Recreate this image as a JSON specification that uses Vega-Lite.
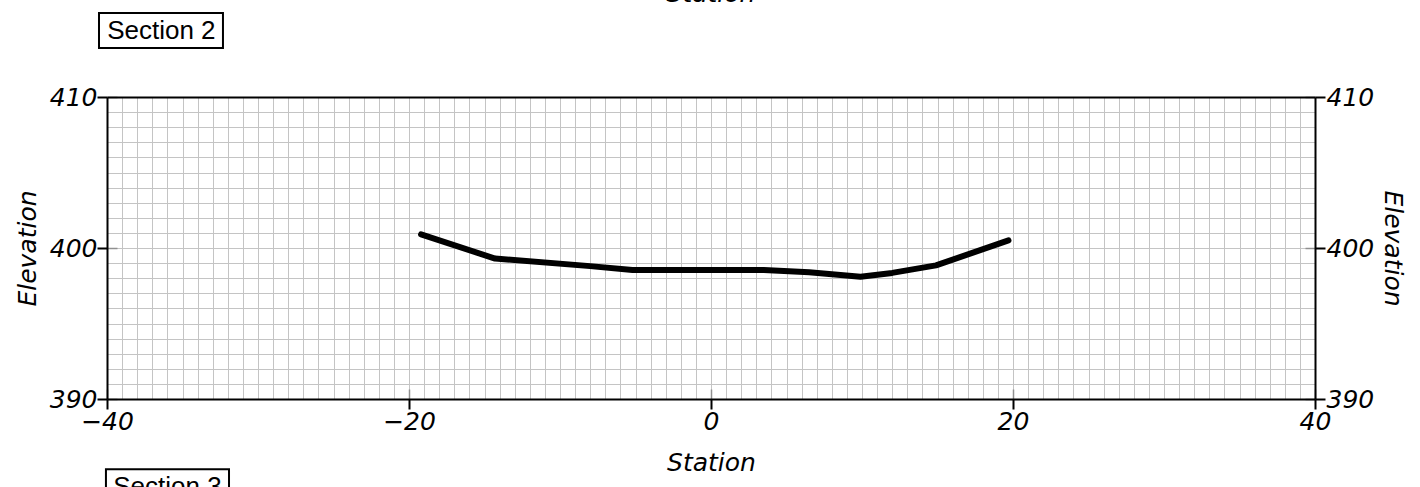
{
  "$schema": "https://vega.github.io/schema/vega-lite/v6.json",
  "width": 1208,
  "height": 302,
  "autosize": {"type": "none"},
  "padding": {"left": 107, "top": 97, "right": 105, "bottom": 88},
  "background": "white",
  "config": {"view": {"stroke": null}, "axis": {"labelFlush": false, "labelOverlap": false, "labelBound": false}},
  "datasets": {
    "profile": [
      {"station": -19.2, "elevation": 400.9},
      {"station": -14.3, "elevation": 399.3},
      {"station": -8.0, "elevation": 398.8},
      {"station": -5.2, "elevation": 398.55},
      {"station": 3.5, "elevation": 398.55},
      {"station": 6.5, "elevation": 398.4},
      {"station": 9.9, "elevation": 398.1},
      {"station": 12.0, "elevation": 398.35},
      {"station": 14.9, "elevation": 398.85},
      {"station": 19.7, "elevation": 400.5}
    ],
    "boxes": [
      {"label": "Section 2", "x1": -40.53, "x2": -32.32, "y1": 415.56, "y2": 413.25, "xc": -36.4, "yc": 414.35},
      {"label": "Section 3", "x1": -40.07, "x2": -31.92, "y1": 385.34, "y2": 383.03, "xc": -36.0, "yc": 384.2}
    ],
    "titles": [
      {"label": "Station", "x": 0, "y": 416.3}
    ]
  },
  "resolve": {"axis": {"x": "independent", "y": "independent"}},
  "layer": [
    {
      "data": {"name": "profile"},
      "mark": {"type": "point", "opacity": 0},
      "encoding": {
        "x": {"field": "station", "type": "quantitative", "scale": {"domain": [-40, 40], "nice": false, "zero": false},
          "axis": {"orient": "bottom", "values": [-40,-39,-38,-37,-36,-35,-34,-33,-32,-31,-30,-29,-28,-27,-26,-25,-24,-23,-22,-21,-20,-19,-18,-17,-16,-15,-14,-13,-12,-11,-10,-9,-8,-7,-6,-5,-4,-3,-2,-1,0,1,2,3,4,5,6,7,8,9,10,11,12,13,14,15,16,17,18,19,20,21,22,23,24,25,26,27,28,29,30,31,32,33,34,35,36,37,38,39,40],
            "grid": true, "gridColor": "#c4c4c4", "gridWidth": 1, "labels": false, "ticks": false, "domain": false, "title": null, "zindex": 0}},
        "y": {"field": "elevation", "type": "quantitative", "scale": {"domain": [390, 410], "nice": false, "zero": false},
          "axis": {"orient": "left", "values": [390,391,392,393,394,395,396,397,398,399,400,401,402,403,404,405,406,407,408,409,410],
            "grid": true, "gridColor": "#c4c4c4", "gridWidth": 1, "labels": false, "ticks": false, "domain": false, "title": null, "zindex": 0}}
      }
    },
    {
      "data": {"name": "profile"},
      "mark": {"type": "point", "opacity": 0},
      "encoding": {
        "x": {"field": "station", "type": "quantitative",
          "axis": {"orient": "bottom", "values": [-40, -20, 0, 20, 40], "labels": false, "ticks": true, "tickSize": -10, "tickColor": "#909090", "tickWidth": 1.5, "domain": false, "grid": false, "title": null, "zindex": 1}},
        "y": {"field": "elevation", "type": "quantitative",
          "axis": {"orient": "left", "values": [390, 400, 410], "labels": false, "ticks": true, "tickSize": -10, "tickColor": "#909090", "tickWidth": 1.5, "domain": false, "grid": false, "title": null, "zindex": 1}}
      }
    },
    {
      "data": {"name": "profile"},
      "mark": {"type": "point", "opacity": 0},
      "encoding": {
        "x": {"field": "station", "type": "quantitative",
          "axis": {"orient": "top", "labels": false, "ticks": false, "domain": true, "domainColor": "black", "domainWidth": 2, "grid": false, "title": null, "zindex": 2}},
        "y": {"field": "elevation", "type": "quantitative",
          "axis": {"orient": "right", "values": [390, 400, 410], "labels": false, "ticks": true, "tickSize": -10, "tickColor": "#909090", "tickWidth": 1.5, "domain": false, "grid": false, "title": null, "zindex": 1}}
      }
    },
    {
      "data": {"name": "profile"},
      "mark": {"type": "line", "color": "black", "strokeWidth": 6, "strokeCap": "round", "strokeJoin": "round"},
      "encoding": {
        "x": {"field": "station", "type": "quantitative",
          "axis": {"orient": "bottom", "values": [-40, -20, 0, 20, 40], "grid": false, "domain": true, "domainColor": "black", "domainWidth": 2,
            "ticks": true, "tickSize": 10, "tickColor": "black", "tickWidth": 2, "labelPadding": 0, "labelFlush": false,
            "labelFont": "DejaVu Sans", "labelFontStyle": "italic", "labelFontWeight": 300, "labelFontSize": 25, "labelColor": "black",
            "title": "Station", "titleFont": "DejaVu Sans", "titleFontStyle": "italic", "titleFontWeight": 300, "titleFontSize": 25, "titleColor": "black", "titlePadding": 16, "zindex": 2}},
        "y": {"field": "elevation", "type": "quantitative",
          "axis": {"orient": "left", "values": [390, 400, 410], "grid": false, "domain": true, "domainColor": "black", "domainWidth": 2,
            "ticks": true, "tickSize": 10, "tickColor": "black", "tickWidth": 2, "labelPadding": 0,
            "labelFont": "DejaVu Sans", "labelFontStyle": "italic", "labelFontWeight": 300, "labelFontSize": 25, "labelColor": "black",
            "title": "Elevation", "titleFont": "DejaVu Sans", "titleFontStyle": "italic", "titleFontWeight": 300, "titleFontSize": 25, "titleColor": "black", "titlePadding": 9, "zindex": 2}}
      }
    },
    {
      "data": {"name": "profile"},
      "mark": {"type": "point", "opacity": 0},
      "encoding": {
        "x": {"field": "station", "type": "quantitative", "axis": null},
        "y": {"field": "elevation", "type": "quantitative",
          "axis": {"orient": "right", "values": [390, 400, 410], "grid": false, "domain": true, "domainColor": "black", "domainWidth": 2,
            "ticks": true, "tickSize": 10, "tickColor": "black", "tickWidth": 2, "labelPadding": 1,
            "labelFont": "DejaVu Sans", "labelFontStyle": "italic", "labelFontWeight": 300, "labelFontSize": 25, "labelColor": "black",
            "title": "Elevation", "titleAngle": 90, "titleFont": "DejaVu Sans", "titleFontStyle": "italic", "titleFontWeight": 300, "titleFontSize": 25, "titleColor": "black", "titlePadding": 6, "zindex": 2}}
      }
    },
    {
      "data": {"name": "boxes"},
      "mark": {"type": "rect", "fill": null, "stroke": "black", "strokeWidth": 2},
      "encoding": {
        "x": {"field": "x1", "type": "quantitative", "axis": null},
        "x2": {"field": "x2"},
        "y": {"field": "y1", "type": "quantitative", "axis": null},
        "y2": {"field": "y2"}
      }
    },
    {
      "data": {"name": "boxes"},
      "mark": {"type": "text", "font": "Liberation Sans", "fontSize": 26, "color": "black", "align": "center", "baseline": "middle"},
      "encoding": {
        "x": {"field": "xc", "type": "quantitative", "axis": null},
        "y": {"field": "yc", "type": "quantitative", "axis": null},
        "text": {"field": "label"}
      }
    },
    {
      "data": {"name": "titles"},
      "mark": {"type": "text", "font": "DejaVu Sans", "fontStyle": "italic", "fontWeight": 300, "fontSize": 25, "color": "black", "align": "center", "baseline": "alphabetic"},
      "encoding": {
        "x": {"field": "x", "type": "quantitative", "axis": null},
        "y": {"field": "y", "type": "quantitative", "axis": null},
        "text": {"field": "label"}
      }
    }
  ]
}
